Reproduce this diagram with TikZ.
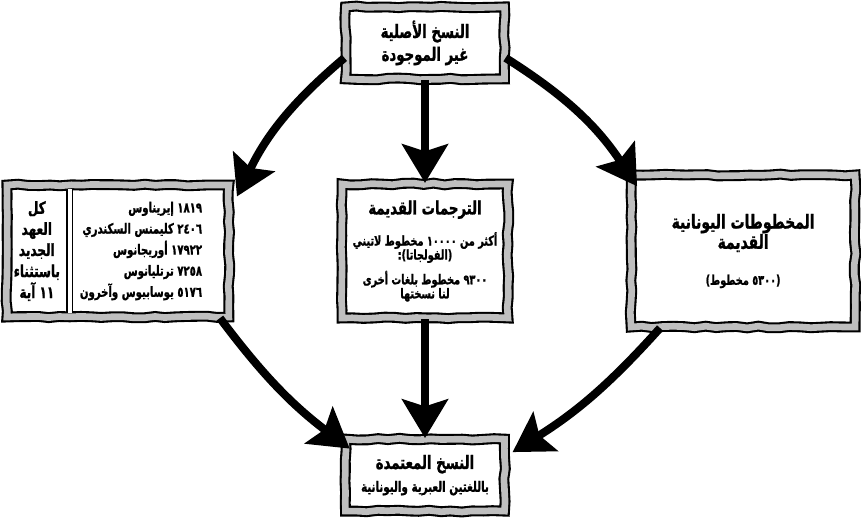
\documentclass[tikz,border=0pt]{standalone}
\usepackage{fontspec}
\newfontfamily\arabicfont[Script=Arabic, FakeStretch=0.72, BoldFeatures={FakeBold=1.2}]{DejaVu Sans}
\TeXXeTstate=1
\usetikzlibrary{arrows.meta, positioning, decorations.pathmorphing}
\newcommand\boxtitle{\fontsize{10.5}{13}\selectfont}
\newcommand\boxsmall{\fontsize{7.7}{8}\selectfont}
\tikzset{
  frame/.style={rectangle, draw=black, line width=1.2pt, double=gray!50, double distance=3.8pt,
                fill=white, inner sep=0pt, align=center,
                font=\arabicfont\bfseries\boxtitle,
                decorate, decoration={random steps, segment length=6pt, amplitude=0.5pt}},
  txt/.style={inner sep=0pt, font=\arabicfont\bfseries\fontsize{8}{12}\selectfont},
  sepline/.style={draw=black, line width=1pt, double=white, double distance=2pt},
  flow/.style={-{Stealth[length=22pt, width=26pt, inset=4pt]}, line width=4.6pt, draw=black},
}
\pgfmathsetseed{7}

\begin{document}
\begin{tikzpicture}
  \useasboundingbox (0,0) rectangle (17.22,-10.38);

  % boxes
  \node[frame, minimum width=3.32cm, minimum height=2.68cm, font=\arabicfont\bfseries\boxsmall]
    (trans) at (8.5,-5.02)
    {{\fontsize{10.5}{8}\selectfont\beginR الترجمات القديمة\endR}\\[6.5pt]
     \beginR أكثر من ١٠٠٠٠ مخطوط لاتيني\endR\\
     \beginR (الفولجاتا):\endR\\[3.5pt]
     \beginR ٩٣٠٠ مخطوط بلغات أخرى\endR\\
     \beginR لنا نسختها\endR};
  \node[frame, minimum width=3.18cm, minimum height=1.44cm, above=2.06cm of trans] (orig)
    {\beginR النسخ الأصلية\endR\\ \beginR غير الموجودة\endR};
  \node[frame, minimum width=3.18cm, minimum height=1.44cm, below=2.38cm of trans] (target)
    {\beginR النسخ المعتمدة\endR\\ \fontsize{8.2}{12.5}\selectfont\beginR باللغتين العبرية واليونانية\endR};
  \node[frame, minimum width=4.48cm, minimum height=3.04cm, right=2.42cm of trans,
        font=\arabicfont\bfseries\fontsize{11}{11.5}\selectfont] (manus)
    {\beginR المخطوطات اليونانية\endR\\ \beginR القديمة\endR\\[9pt]
     \boxsmall\beginR (٥٣٠٠ مخطوط)\endR};
  \node[frame, minimum width=4.44cm, minimum height=2.64cm, left=2.22cm of trans] (fathers) {};

  % inside the fathers box
  \node[txt, align=center, font=\arabicfont\bfseries\fontsize{9.5}{12}\selectfont] (verses)
    at ([xshift=0.62cm]fathers.west)
    {\beginR كل\endR\\ \beginR العهد\endR\\ \beginR الجديد\endR\\ \beginR باستثناء\endR\\ \beginR ١١ آية\endR};
  \node[txt, align=right, anchor=east] (counts) at ([xshift=-0.55cm]fathers.east)
    {\beginR ١٨١٩ إيريناوس\endR\\
     \beginR ٢٤٠٦ كليمنس السكندري\endR\\
     \beginR ١٧٩٢٢ أوريجانوس\endR\\
     \beginR ٧٢٥٨ ترتليانوس\endR\\
     \beginR ٥١٧٦ يوسابيوس وآخرون\endR};
  \draw[sepline, shorten <=2.8pt, shorten >=2.8pt]
    ([xshift=1.28cm]fathers.north west) -- ([xshift=1.28cm]fathers.south west);

  % arrows
  \draw[flow] ([yshift=-0.3cm]orig.west) to[bend right=12] ([xshift=4pt,yshift=-0.25cm]fathers.north east);
  \draw[flow] (orig) -- (trans);
  \draw[flow] ([yshift=-0.3cm]orig.east) to[bend left=12] ([xshift=4pt,yshift=-7pt]manus.north west);
  \draw[flow] ([xshift=-0.2cm]fathers.south east) to[bend right=8] ([xshift=3pt,yshift=-6pt]target.north west);
  \draw[flow] (trans) -- (target);
  \draw[flow] ([xshift=0.6cm]manus.south west) to[bend left=8] ([xshift=4pt,yshift=-8pt]target.north east);
\end{tikzpicture}
\end{document}
